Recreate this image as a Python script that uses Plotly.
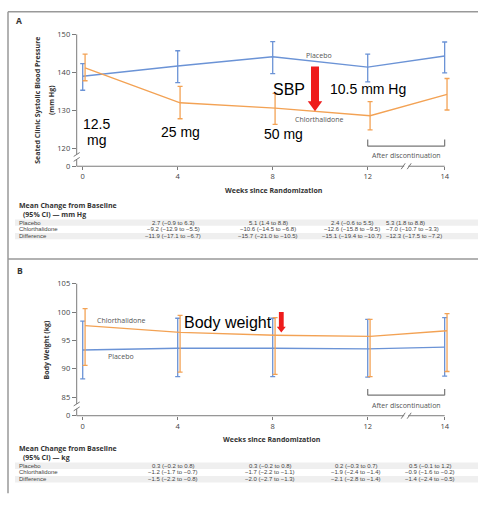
import plotly.graph_objects as go

# ---------------- data ----------------
weeks = [0, 4, 8, 12, 14]

# Panel A: seated clinic systolic blood pressure (mm Hg)
sbp_placebo = [139.0, 141.7, 144.1, 141.4, 144.3]
sbp_placebo_lo = [135.3, 137.3, 139.7, 137.5, 139.9]
sbp_placebo_hi = [142.3, 145.7, 148.1, 144.8, 148.0]
sbp_chlor = [141.2, 132.0, 130.6, 128.6, 134.2]
sbp_chlor_lo = [137.8, 127.8, 126.3, 124.9, 130.1]
sbp_chlor_hi = [144.8, 136.3, 134.5, 132.3, 138.4]

# Panel B: body weight (kg)
wt_placebo = [93.3, 93.6, 93.6, 93.5, 93.8]
wt_placebo_lo = [88.2, 88.6, 88.6, 88.5, 88.7]
wt_placebo_hi = [98.4, 98.9, 98.9, 98.7, 99.0]
wt_chlor = [97.6, 96.4, 95.9, 95.7, 96.7]
wt_chlor_lo = [90.6, 89.4, 89.0, 88.6, 89.5]
wt_chlor_hi = [100.6, 99.4, 99.0, 98.7, 99.7]

sbp_ticks = [120, 130, 140, 150]
wt_ticks = [85, 90, 95, 100, 105]

table_row_names = ["Placebo", "Chlorthalidone", "Difference"]
sbp_table = [
    ["2.7 (\u22120.9 to 6.3)", "5.1 (1.4 to 8.8)", "2.4 (\u22120.6 to 5.5)", "5.3 (1.8 to 8.8)"],
    ["\u22129.2 (\u221212.9 to \u22125.5)", "\u221210.6 (\u221214.5 to \u22126.8)",
     "\u221212.6 (\u221215.8 to \u22129.5)", "\u22127.0 (\u221210.7 to \u22123.3)"],
    ["\u221211.9 (\u221217.1 to \u22126.7)", "\u221215.7 (\u221221.0 to \u221210.5)",
     "\u221215.1 (\u221219.4 to \u221210.7)", "\u221212.3 (\u221217.5 to \u22127.2)"],
]
wt_table = [
    ["0.3 (\u22120.2 to 0.8)", "0.3 (\u22120.2 to 0.8)", "0.2 (\u22120.3 to 0.7)", "0.5 (\u22120.1 to 1.2)"],
    ["\u22121.2 (\u22121.7 to \u22120.7)", "\u22121.7 (\u22122.2 to \u22121.1)",
     "\u22121.9 (\u22122.4 to \u22121.4)", "\u22120.9 (\u22121.6 to \u22120.2)"],
    ["\u22121.5 (\u22122.2 to \u22120.8)", "\u22122.0 (\u22122.7 to \u22121.3)",
     "\u22122.1 (\u22122.8 to \u22121.4)", "\u22121.4 (\u22122.4 to \u22120.5)"],
]

# ---------------- layout helpers ----------------
W, H = 478, 506
BLUE = "#6b93d6"
ORANGE = "#f3a254"
AXIS = "#7a7a7a"
SMALL = "Open Sans, Lato, sans-serif"
TABLE = "Liberation Sans, Arial, sans-serif"
BIG = "Liberation Sans, Arial, sans-serif"


def fx(x):
    return x / W


def fy(y):
    return 1 - y / H


BREAK_AT, STRETCH = 12, 1.62  # the x axis is stretched after the break


def wpos(w):
    return w if w <= BREAK_AT else BREAK_AT + (w - BREAK_AT) * STRETCH


DODGE = 0.1  # chlorthalidone points sit slightly right of placebo
XL, XR = 76.7, 460.0
X_RANGE = [-0.253, -0.253 + (XR - XL) / 23.75]

fig = go.Figure()


def add_series(vals, lo, hi, color, xa, ya, dodge):
    fig.add_trace(go.Scatter(
        x=[wpos(w) + dodge for w in weeks], y=vals,
        mode="lines", line=dict(color=color, width=1.4),
        error_y=dict(type="data", symmetric=False,
                     array=[h - v for h, v in zip(hi, vals)],
                     arrayminus=[v - l for v, l in zip(vals, lo)],
                     color=color, thickness=1.3, width=2.5),
        xaxis=xa, yaxis=ya, showlegend=False, hoverinfo="skip",
        cliponaxis=False,
    ))


add_series(sbp_placebo, sbp_placebo_lo, sbp_placebo_hi, BLUE, "x", "y", 0)
add_series(sbp_chlor, sbp_chlor_lo, sbp_chlor_hi, ORANGE, "x", "y", DODGE)
add_series(wt_placebo, wt_placebo_lo, wt_placebo_hi, BLUE, "x2", "y2", 0)
add_series(wt_chlor, wt_chlor_lo, wt_chlor_hi, ORANGE, "x2", "y2", DODGE)

tick_font = dict(family=SMALL, size=7.5, color="#444")
xcommon = dict(range=X_RANGE, domain=[fx(XL), fx(XR)],
               tickvals=[wpos(w) for w in weeks], ticktext=[str(w) for w in weeks],
               ticks="outside", ticklen=3, tickcolor=AXIS, tickwidth=1,
               tickfont=tick_font, showgrid=False, zeroline=False, showline=False)

A_TOP, A_BOT = 30.0, 164.5
B_TOP, B_BOT = 284.3, 419.0
A_FLOOR = 115.3   # value drawn at the broken "0" tick
B_FLOOR = 81.7

fig.update_layout(
    width=W, height=H, margin=dict(l=0, r=0, t=0, b=0),
    paper_bgcolor="white", plot_bgcolor="white",
    xaxis=dict(**xcommon, anchor="y"),
    yaxis=dict(domain=[fy(A_BOT), fy(A_TOP)], range=[A_FLOOR, 150], anchor="x",
               tickvals=[A_FLOOR] + sbp_ticks, ticktext=["0"] + [str(t) for t in sbp_ticks],
               ticks="outside", ticklen=4, tickcolor=AXIS, tickfont=tick_font,
               showgrid=False, zeroline=False, showline=False),
    xaxis2=dict(**xcommon, anchor="y2"),
    yaxis2=dict(domain=[fy(B_BOT), fy(B_TOP)], range=[B_FLOOR, 105], anchor="x2",
                tickvals=[B_FLOOR] + wt_ticks, ticktext=["0"] + [str(t) for t in wt_ticks],
                ticks="outside", ticklen=4, tickcolor=AXIS, tickfont=tick_font,
                showgrid=False, zeroline=False, showline=False),
)

shapes = []


def seg(x0, y0, x1, y1, color=AXIS, width=1.0):
    shapes.append(dict(type="line", xref="paper", yref="paper",
                       x0=fx(x0), y0=fy(y0), x1=fx(x1), y1=fy(y1),
                       line=dict(color=color, width=width)))


def x_px(w):
    return XL + (wpos(w) - X_RANGE[0]) * 23.75


def broken_axes(top, bot, ybreak):
    right = x_px(14)
    xb = (x_px(12) + right) / 2
    # y axis with a break near the bottom
    seg(XL, bot, XL, ybreak + 2.5)
    seg(XL, ybreak - 2.5, XL, top)
    seg(XL - 3, ybreak + 4.5, XL + 3, ybreak + 0.5)
    seg(XL - 3, ybreak - 0.5, XL + 3, ybreak - 4.5)
    # x axis with a break between weeks 12 and 14
    seg(XL, bot, xb - 2, bot)
    seg(xb + 2, bot, right, bot)
    seg(xb - 5, bot + 3, xb - 1, bot - 3)
    seg(xb + 1, bot + 3, xb + 5, bot - 3)


broken_axes(A_TOP, A_BOT, 155.0)
broken_axes(B_TOP, B_BOT, 409.5)


def bracket(ytop, ybar):
    x0, x1 = x_px(12), x_px(14)
    seg(x0, ytop, x0, ybar, "#777", 1.2)
    seg(x0, ybar, x1, ybar, "#777", 1.2)
    seg(x1, ybar, x1, ytop, "#777", 1.2)


bracket(137.3, 144.0)
bracket(391.7, 398.0)

# panel frames
FRAME = "#999"
seg(8, 7, 8, 498, FRAME, 1.5)
seg(8, 7, W, 7, FRAME, 1.5)
seg(8, 259, W, 259, FRAME, 1.5)


def band(y, h=6.6):
    shapes.append(dict(type="rect", xref="paper", yref="paper", layer="below",
                       x0=fx(15), x1=1, y0=fy(y + h / 2), y1=fy(y - h / 2),
                       fillcolor="#efefef", line=dict(width=0)))


def down_arrow(xc, ytop, yhead, ytip, shaft_w, head_w):
    s, hw = shaft_w / 2, head_w / 2
    pts = [(xc - s, ytop), (xc + s, ytop), (xc + s, yhead), (xc + hw, yhead),
           (xc, ytip), (xc - hw, yhead), (xc - s, yhead)]
    path = "M " + " L ".join(f"{fx(x):.5f},{fy(y):.5f}" for x, y in pts) + " Z"
    shapes.append(dict(type="path", xref="paper", yref="paper", path=path,
                       fillcolor="#ee1c1c", line=dict(width=0)))


down_arrow(315.0, 62.7, 98.3, 108.3, 8.0, 14.5)
down_arrow(281.3, 313.3, 328.3, 334.0, 4.8, 9.0)

# ---------------- text ----------------
ann = []


def note(x, y, text, size=7, color="#444", family=SMALL, xanchor="center", angle=0):
    ann.append(dict(x=fx(x), y=fy(y), xref="paper", yref="paper", text=text,
                    showarrow=False, xanchor=xanchor, yanchor="middle", borderpad=0,
                    textangle=angle, font=dict(family=family, size=size, color=color)))


# panel A
note(15, 16, "<b>A</b>", 8.5, "#333", xanchor="left")
note(36.7, 97, "<b>Seated Clinic Systolic Blood Pressure</b>", 7, "#333", angle=-90)
note(51, 97, "<b>(mm Hg)</b>", 7, "#333", angle=-90)
note(274, 189, "<b>Weeks since Randomization</b>", 7, "#333")
note(319.3, 51.3, "Placebo", 7, "#555")
note(319, 117, "Chlorthalidone", 7, "#555")
note(406.7, 154, "After discontinuation", 7, "#555")

note(96, 121.5, "12.5", 14, "black", BIG)
note(96, 137.5, "mg", 14, "black", BIG)
note(180, 129.3, "25 mg", 14, "black", BIG)
note(283.3, 131.7, "50 mg", 14, "black", BIG)
note(289.3, 86, "SBP", 16, "black", BIG)
note(367.7, 86, "10.5 mm Hg", 14, "black", BIG)

# panel B
note(16, 270.7, "<b>B</b>", 8.5, "#333", xanchor="left")
note(46.7, 351.7, "<b>Body Weight (kg)</b>", 7, "#333", angle=-90)
note(272, 443, "<b>Weeks since Randomization</b>", 7, "#333")
note(121.7, 321.7, "Chlorthalidone", 7, "#555")
note(121, 359, "Placebo", 7, "#555")
note(406.7, 408.3, "After discontinuation", 7, "#555")
note(228, 324, "Body weight", 16, "black", BIG)

ROW_GAP = 6.9


def table(y_head, unit, rows, row_y, cols):
    note(18, y_head, "<b>Mean Change from Baseline</b>", 7, "#333", xanchor="left")
    note(22, y_head + 9, f"<b>(95% CI) \u2014 {unit}</b>", 7, "#333", xanchor="left")
    for i, (name, vals) in enumerate(zip(table_row_names, rows)):
        y = row_y + ROW_GAP * i
        if i != 1:
            band(y)
        note(18, y, name, 6, "#444", TABLE, xanchor="left")
        for (cx, anchor), v in zip(cols, vals):
            note(cx, y, v, 6, "#444", TABLE, xanchor=anchor)


table(204.5, "mm Hg", sbp_table, 222.0,
      [(173, "center"), (268, "center"), (352, "center"), (385, "left")])
table(452.5, "kg", wt_table, 470.0,
      [(173, "center"), (270, "center"), (356, "center"), (430, "center")])

fig.update_layout(shapes=shapes, annotations=ann)
fig.write_html("out.html")
